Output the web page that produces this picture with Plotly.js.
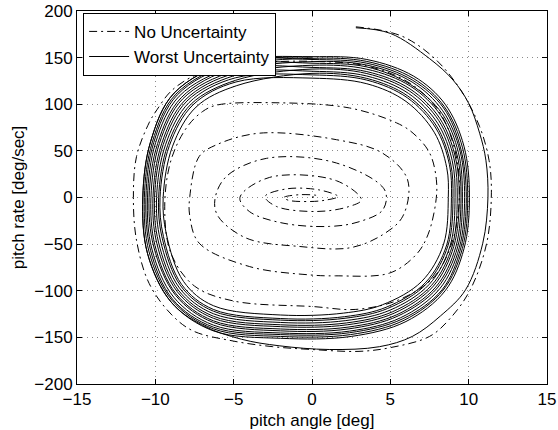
<!DOCTYPE html>
<html>
<head>
<meta charset="utf-8">
<script src="https://cdn.plot.ly/plotly-3.0.1.min.js"></script>
<style>html,body{margin:0;padding:0;background:#fff;}#plot{width:558px;height:430px;}</style>
</head>
<body>
<div id="plot"></div>
<script>
// ---- data (pitch angle [deg], pitch rate [deg/sec]) ----
const seriesNames = ["No Uncertainty", "Worst Uncertainty"];
const xTicks = [-15, -10, -5, 0, 5, 10, 15];
const yTicks = [-200, -150, -100, -50, 0, 50, 100, 150, 200];

// No Uncertainty: spiral converging to origin
const noUncOuter = [[2.8,183],[4.5,179],[6.0,171],[7.9,148],[9.5,115],[10.7,76],[11.3,40],[11.45,5],[11.15,-49],[10.1,-99],[8.8,-130],[7.5,-149],[5.0,-161],[3.0,-165],[0,-163],[-2.5,-160],[-5.0,-154],[-7.6,-143],[-9.0,-125],[-10.4,-92],[-11.2,-46],[-11.4,0],[-11.2,44],[-10.4,80],[-9.9,94],[-9.0,114],[-7.6,130],[-5.8,140],[-3,145],[0,146]];
const noUncSecond = [[3.5,141],[6.3,122],[8.2,90],[9.2,45],[9.4,0],[9.0,-45],[7.8,-85],[5.5,-110],[2.8,-120],[0.1,-117],[-5.0,-111],[-7.5,-95],[-9.0,-60],[-9.4,-10],[-9.0,40],[-8.0,75],[-7.0,92]];
const noUncThird = [[-6.1,99],[-2.3,101.6],[2.4,96],[5.4,80],[6.45,69],[7.5,48],[7.94,19],[7.9,-5],[7.4,-40],[6.66,-61],[4.96,-81],[1.5,-84],[-0.15,-83],[-4.0,-74],[-7.2,-49],[-7.8,-20],[-7.8,1],[-7.2,44],[-6.1,56.5]];
const noUncInner = [[-3.34,69],[1.56,62],[4.5,47.6],[6.1,19],[5.8,-20],[4.5,-40],[2.4,-54],[-0.8,-52.5],[-4.2,-43.5],[-6.0,-20],[-6.2,-2.5],[-5.5,22],[-2.9,42],[1.56,37],[4.64,8],[4.53,-13],[3.0,-26],[1.13,-31],[-1.85,-27.5],[-4.0,-15],[-4.6,0],[-2.7,21.6],[1.56,18],[3.15,-2.5],[2.3,-10],[0.28,-15],[-2.27,-9.6],[-3.0,1],[-1.6,9.3],[0.5,8],[1.66,1],[0.8,-3],[-0.15,-4.3],[-1.5,-3],[-1.8,0],[-0.8,3],[0.3,2],[0,0]];

// Worst Uncertainty: transient then bundle of loops around a limit cycle
const worstStart = [[2.8,182],[5.0,176],[7.5,149],[9.0,126],[10.0,101],[10.7,69],[11.1,40],[11.23,0],[10.9,-49],[9.8,-99],[8.2,-127],[6.4,-149],[4.3,-160],[1.1,-163],[-2.1,-159],[-4.5,-152],[-7.0,-137],[-9.0,-112],[-10.5,-60],[-10.8,0],[-10.3,60],[-8.8,112],[-5.1,146]];
const worstLoop1 = [[0,151],[3.5,148],[6.5,130],[8.5,100],[9.7,55],[10.05,0],[9.7,-55],[8.5,-100],[6.0,-133],[2.5,-149],[-2,-151],[-6.3,-143],[-9.0,-112],[-10.5,-60],[-10.8,0],[-10.3,60],[-8.8,112],[-5.1,146]];
const worstLoop2 = [[0,148],[3.5,144],[6.4,126],[8.4,96],[9.5,52],[9.85,0],[9.5,-54],[8.3,-99],[5.8,-130],[2.4,-145],[-2,-147],[-6.3,-139],[-8.9,-109],[-10.3,-57],[-10.6,0],[-10.1,59],[-8.6,110],[-5.1,142]];
const worstLoop3 = [[0,144],[3.5,140],[6.3,121],[8.3,90],[9.35,48],[9.6,0],[9.3,-53],[8.0,-97],[5.5,-127],[2.3,-141],[-2,-143],[-6.3,-134],[-8.7,-105],[-10.1,-53],[-10.4,0],[-9.85,58],[-8.35,107],[-5.0,138]];
const worstLoop4 = [[0,139.5],[3.5,135],[6.25,116.5],[8.15,85],[9.15,43.5],[9.4,0],[9.05,-52.5],[7.75,-95],[5.25,-124],[2.25,-136.5],[-2,-138.5],[-6.3,-129.5],[-8.6,-101],[-9.9,-49.5],[-10.15,0],[-9.6,57.5],[-8.1,104.5],[-4.95,133]];
const worstLoop5 = [[0,135.4],[3.5,130.3],[6.16,111.6],[8.02,79.6],[8.95,39.4],[9.13,0],[8.82,-51.6],[7.48,-93.2],[4.98,-120.8],[2.16,-132],[-2,-134],[-6.3,-124.6],[-8.46,-97],[-9.68,-45.7],[-9.92,0],[-9.35,56.6],[-7.85,101.8],[-4.9,128.3]];
const worstLoop6 = [[0,131.5],[3.5,125.9],[6.08,107],[7.9,74.5],[8.77,35.5],[8.9,0],[8.6,-50.8],[7.23,-91.5],[4.73,-117.7],[2.08,-127.8],[-2,-129.8],[-6.3,-120],[-8.32,-93.3],[-9.48,-42],[-9.7,0],[-9.1,55.8],[-7.6,99.3],[-4.85,123.9]];
const worstLoop7 = [[0,128],[3.5,122],[6.0,103],[7.8,70],[8.6,32],[8.7,0],[8.4,-50],[7.0,-90],[4.5,-115],[2.0,-124],[-2,-126],[-6.3,-116],[-8.2,-90],[-9.3,-39],[-9.5,0],[-8.9,55],[-7.4,97],[-4.8,120]];
const worstLoop8 = [[0,133.1],[3.5,127.7],[6.11,108.9],[7.95,76.6],[8.84,37.1],[9.0,0],[8.69,-51.1],[7.33,-92.2],[4.83,-119],[2.11,-129.5],[-2,-131.5],[-6.3,-121.9],[-8.38,-94.8],[-9.56,-43.6],[-9.79,0],[-9.21,56.1],[-7.71,100.3],[-4.87,125.7]];
const worstLoop9 = [[0,137.7],[3.5,132.9],[6.21,114.3],[8.09,82.6],[9.06,41.7],[9.27,0],[8.95,-52.1],[7.63,-94.2],[5.13,-122.6],[2.21,-134.5],[-2,-136.5],[-6.3,-127.3],[-8.54,-99.2],[-9.8,-47.8],[-10.05,0],[-9.49,57.1],[-7.99,103.3],[-4.93,130.9]];
const worstLoop10 = [[0,141.8],[3.5,137.6],[6.3,119.2],[8.22,88],[9.26,45.8],[9.51,0],[9.18,-53],[7.9,-96],[5.4,-125.8],[2.3,-139],[-2,-141],[-6.3,-132.2],[-8.68,-103.2],[-10.02,-51.6],[-10.28,0],[-9.74,58],[-8.24,106],[-4.98,135.6]];
const worstLoop11 = [[0,145.7],[3.5,142],[6.39,123.8],[8.34,93.1],[9.45,49.7],[9.74,0],[9.4,-53.9],[8.16,-97.7],[5.66,-128.9],[2.39,-143.3],[-2,-145.3],[-6.3,-136.8],[-8.82,-107],[-10.22,-55.2],[-10.5,0],[-9.98,58.9],[-8.48,108.6],[-5.03,140]];
const worstLoop12 = [[0,149.2],[3.5,145.9],[6.46,127.8],[8.44,97.6],[9.61,53.2],[9.94,0],[9.6,-54.6],[8.38,-99.2],[5.88,-131.6],[2.46,-147],[-2,-149],[-6.3,-140.8],[-8.94,-110.2],[-10.4,-58.3],[-10.7,0],[-10.19,59.6],[-8.69,110.8],[-5.08,143.9],[0,150.5]];

// ---- assemble traces ----
const noUnc = [].concat(noUncOuter, noUncSecond, noUncThird, noUncInner);
const worst = [].concat(worstStart, worstLoop1, worstLoop2, worstLoop3, worstLoop4, worstLoop5, worstLoop6,
                        worstLoop7, worstLoop8, worstLoop9, worstLoop10, worstLoop11, worstLoop12);

const FONT = '"Liberation Sans", Arial, Helvetica, sans-serif';
const FS = 17;

const traces = [
  {
    x: noUnc.map(p => p[0]), y: noUnc.map(p => p[1]),
    type: 'scatter', mode: 'lines', name: seriesNames[0],
    line: {color: '#000', width: 1, dash: '8px,4px,2px,4px', shape: 'spline', smoothing: 1}
  },
  {
    x: worst.map(p => p[0]), y: worst.map(p => p[1]),
    type: 'scatter', mode: 'lines', name: seriesNames[1],
    line: {color: '#000', width: 1, shape: 'spline', smoothing: 1}
  }
];

const axisCommon = {
  showline: true, linecolor: '#000', linewidth: 1, mirror: 'ticks',
  ticks: 'inside', ticklen: 5, tickcolor: '#000', tickwidth: 1,
  showgrid: true, gridcolor: '#8a8a8a', griddash: '1px,4px', gridwidth: 1,
  zeroline: false, tickfont: {family: FONT, size: FS, color: '#000'}
};

const layout = {
  width: 558, height: 430,
  margin: {l: 77, r: 11, t: 11, b: 46},
  paper_bgcolor: '#fff', plot_bgcolor: '#fff',
  font: {family: FONT, size: FS, color: '#000'},
  xaxis: Object.assign({}, axisCommon, {
    range: [-15, 15], tickvals: xTicks, ticktext: xTicks.map(v => v < 0 ? '\u2212' + Math.abs(v) : String(v)),
    title: {text: 'pitch angle [deg]', font: {family: FONT, size: FS, color: '#000'}, standoff: 7}
  }),
  yaxis: Object.assign({}, axisCommon, {
    range: [-200, 200], tickvals: yTicks, ticktext: yTicks.map(v => v < 0 ? '\u2212' + Math.abs(v) : String(v)),
    title: {text: 'pitch rate [deg/sec]', font: {family: FONT, size: FS, color: '#000'}, standoff: 5}
  }),
  showlegend: true,
  legend: {
    x: 0.013, y: 0.995, xanchor: 'left', yanchor: 'top',
    bgcolor: '#fff', bordercolor: '#000', borderwidth: 1,
    font: {family: FONT, size: FS, color: '#000'},
    itemwidth: 40, tracegroupgap: 0
  }
};

Plotly.newPlot('plot', traces, layout, {staticPlot: true, displayModeBar: false});
</script>
</body>
</html>
